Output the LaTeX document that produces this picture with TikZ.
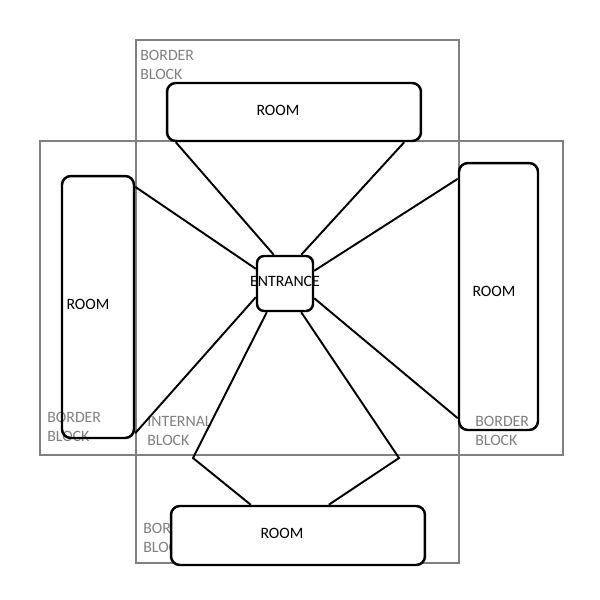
\documentclass[tikz,border=0pt]{standalone}
\usepackage{fontspec}
\setmainfont{Carlito}
\usetikzlibrary{calc}
\tikzset{block/.style={draw=gray,line width=1.1pt},
 room/.style={draw,line width=1.4pt,rounded corners=5pt,inner sep=0pt},
 link/.style={line width=1.1pt},
 txt/.style={font=\fontsize{9}{10.8}\selectfont,inner sep=0pt},
 lbl/.style={txt,text=gray,align=left,anchor=north west}}

\begin{document}
\begin{tikzpicture}[x=0.02cm,y=-0.02cm]
\useasboundingbox (0,0) rectangle (600,600);
% Deux blocs de bordure qui se croisent.
\draw[block] (136,40) rectangle (459,563);
\draw[block] (40,141) rectangle (563,455);
\node[lbl] (lb1) at (140,50){BORDER\\BLOCK};
\node[lbl] (lb2) at (47,412){BORDER\\BLOCK};
\node[lbl] (lb3) at (147,416){INTERNAL\\BLOCK};
\node[lbl] (lb4) at (475,416){BORDER\\BLOCK};
\node[lbl] (lb5) at (143,523){BORDER\\BLOCK};
% Les pieces et l'entree.
\node[room,minimum width=5.08cm,minimum height=1.16cm] (top) at (294,112){};
\node[room,minimum width=1.44cm,minimum height=5.24cm] (left) at (98,307){};
\node[room,minimum width=1.58cm,minimum height=5.34cm] (right) at (498.5,296.5){};
\node[room,fill=white,minimum width=5.08cm,minimum height=1.18cm] (bot) at (298,535.5){};
\node[room,rounded corners=4pt,minimum width=1.12cm,minimum height=1.1cm] (entr) at (285,283.5){};
\draw[line width=1.6pt] (253,565)--(322,565);
\node[txt] (ttop) at (278,110){ROOM};
\node[txt] (tleft) at (88,304){ROOM};
\node[txt] (tright) at (494,291){ROOM};
\node[txt] (tbot) at (282,533){ROOM};
\node[txt] (tentr) at (285,281){ENTRANCE};
% Liaisons entree -> pieces.
\coordinate (kl) at (193,458);
\coordinate (kr) at (399,458);
\draw[link] ($(top.south west)+(10,0)$)--($(entr.north west)+(18,0)$);
\draw[link] ($(top.south east)+(-18,0)$)--($(entr.north east)+(-13,0)$);
\draw[link] ($(left.north east)+(0,12)$)--($(entr.north west)+(0,14)$);
\draw[link] ($(left.south east)+(0,-6)$)--($(entr.south west)+(0,-15)$);
\draw[link] ($(right.north west)+(0,17)$)--($(entr.north east)+(0,16)$);
\draw[link] ($(right.south west)+(0,-13)$)--($(entr.south east)+(0,-14)$);
\draw[link] ($(entr.south west)+(11,0)$)--(kl)--($(bot.north west)+(81,0)$);
\draw[link] ($(entr.south east)+(-13,0)$)--(kr)--($(bot.north west)+(159,0)$);
\end{tikzpicture}
\end{document}
